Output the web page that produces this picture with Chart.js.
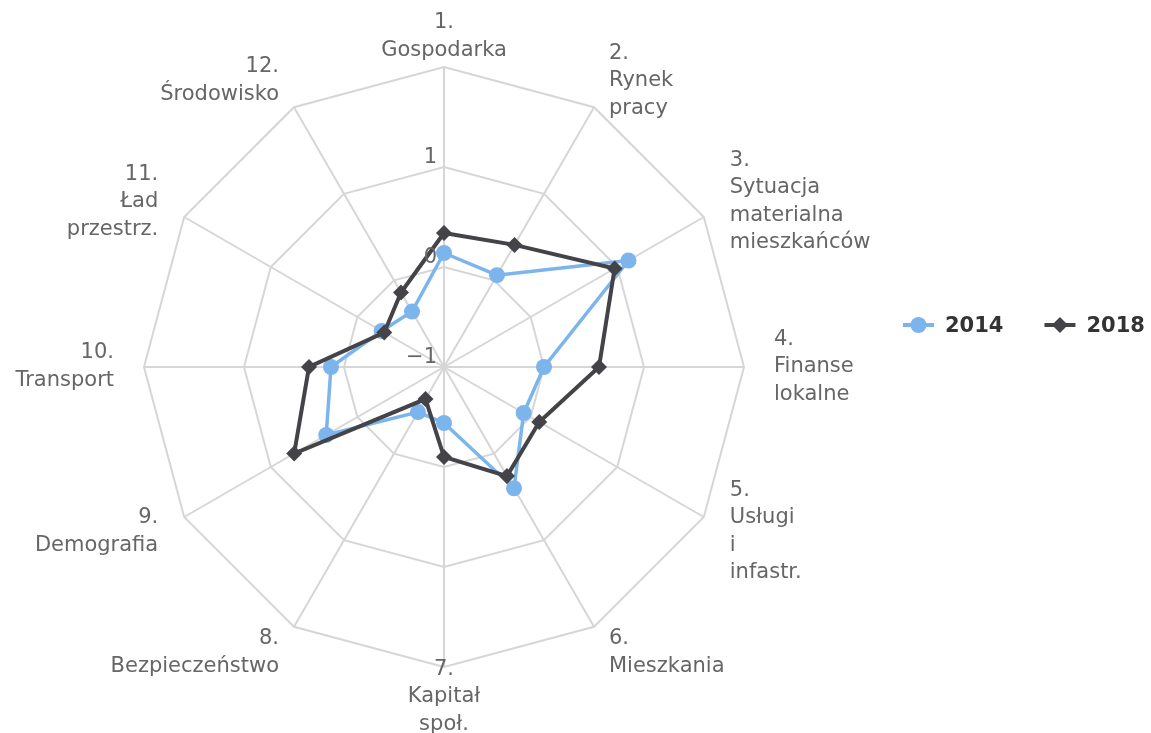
<!DOCTYPE html>
<html>
<head>
<meta charset="utf-8">
<script src="https://cdn.jsdelivr.net/npm/chart.js@4.4.0/dist/chart.umd.min.js"></script>
<style>
  html, body { margin: 0; padding: 0; background: #fff; }
  #wrap { width: 1151px; height: 733px; }
</style>
</head>
<body>
<div id="wrap"><canvas id="radar" width="1151" height="733"></canvas></div>
<script>
// axis labels, one array entry per line
const categories = [
    ['1.', 'Gospodarka'],
    ['2.', 'Rynek', 'pracy'],
    ['3.', 'Sytuacja', 'materialna', 'mieszkańców'],
    ['4.', 'Finanse', 'lokalne'],
    ['5.', 'Usługi', 'i', 'infastr.'],
    ['6.', 'Mieszkania'],
    ['7.', 'Kapitał', 'społ.'],
    ['8.', 'Bezpieczeństwo'],
    ['9.', 'Demografia'],
    ['10.', 'Transport'],
    ['11.', 'Ład', 'przestrz.'],
    ['12.', 'Środowisko']
];
const seriesNames = ['2014', '2018'];
const values2014 = [0.14, 0.06, 1.13, 0.00, -0.08, 0.40, -0.44, -0.48, 0.36, 0.13, -0.28, -0.36];
const values2018 = [0.34, 0.41, 0.97, 0.55, 0.10, 0.26, -0.10, -0.63, 0.73, 0.35, -0.31, -0.14];
const scaleMin = -1;
const scaleMax = 2;
const scaleStep = 1;

const BLUE = '#7cb5ec';
const DARK = '#434348';
const LABEL_FONT = '21px "DejaVu Sans"';

const fmt = v => (v < 0 ? '\u2212' + Math.abs(v) : String(v));

// Highcharts-like labels: centred blocks around the axis ends, ticks left of the top spoke
const labelsPlugin = {
    id: 'hcLabels',
    afterDraw(chart) {
        const scale = chart.scales.r;
        const ctx = chart.ctx;
        ctx.save();
        ctx.font = LABEL_FONT;
        ctx.fillStyle = '#666666';
        ctx.textBaseline = 'alphabetic';

        // tick labels (last one hidden, like the original)
        ctx.textAlign = 'right';
        scale.ticks.forEach((t, i) => {
            if (i === scale.ticks.length - 1) return;
            const d = scale.getDistanceFromCenterForValue(t.value);
            ctx.fillText(fmt(t.value), scale.xCenter - 7, scale.yCenter - d - 4);
        });

        // point labels
        const lh = 27.5;
        categories.forEach((lines, i) => {
            const p = scale.getPointPosition(i, scale.drawingArea + 30);
            const dx = p.x - scale.xCenter;
            ctx.textAlign = Math.abs(dx) < 1 ? 'center' : (dx > 0 ? 'left' : 'right');
            const y0 = p.y - (lines.length - 1) * lh / 2 + 5;
            lines.forEach((s, k) => ctx.fillText(s, p.x, y0 + k * lh));
        });

        // legend
        ctx.font = 'bold 21px "DejaVu Sans"';
        ctx.textAlign = 'left';
        let x = 903;
        const y = 325;
        chart.data.datasets.slice().sort((a, b) => a.label.localeCompare(b.label)).forEach(ds => {
            ctx.strokeStyle = ds.borderColor;
            ctx.fillStyle = ds.borderColor;
            ctx.lineWidth = 4;
            ctx.beginPath();
            ctx.moveTo(x, y);
            ctx.lineTo(x + 31, y);
            ctx.stroke();
            Chart.helpers.drawPoint(ctx, {
                pointStyle: ds.pointStyle,
                radius: 8,
                borderWidth: 0
            }, x + 15.5, y);
            ctx.fillStyle = '#333333';
            ctx.fillText(ds.label, x + 42, y + 7);
            x += 42 + ctx.measureText(ds.label).width + 41;
        });
        ctx.restore();
    }
};

new Chart(document.getElementById('radar'), {
    type: 'radar',
    data: {
        labels: categories,
        datasets: [{
            label: seriesNames[0],
            data: values2014,
            borderColor: BLUE,
            backgroundColor: BLUE,
            fill: false,
            borderWidth: 3.5,
            pointStyle: 'circle',
            pointRadius: 8,
            pointBorderWidth: 0,
            pointBackgroundColor: BLUE,
            order: 1
        }, {
            label: seriesNames[1],
            data: values2018,
            borderColor: DARK,
            backgroundColor: DARK,
            fill: false,
            borderWidth: 4,
            pointStyle: 'rectRot',
            pointRadius: 8,
            pointBorderWidth: 0,
            pointBackgroundColor: DARK,
            order: 0
        }]
    },
    options: {
        responsive: false,
        animation: false,
        events: [],
        layout: { padding: { left: 0, right: 263, top: 67, bottom: 66 } },
        plugins: {
            legend: { display: false },
            tooltip: { enabled: false }
        },
        elements: { line: { tension: 0 } },
        scales: {
            r: {
                min: scaleMin,
                max: scaleMax,
                ticks: { display: false, stepSize: scaleStep },
                pointLabels: { display: false },
                grid: { color: '#d6d6d6', lineWidth: 2 },
                angleLines: { color: '#d6d6d6', lineWidth: 2 }
            }
        }
    },
    plugins: [labelsPlugin]
});
</script>
</body>
</html>
